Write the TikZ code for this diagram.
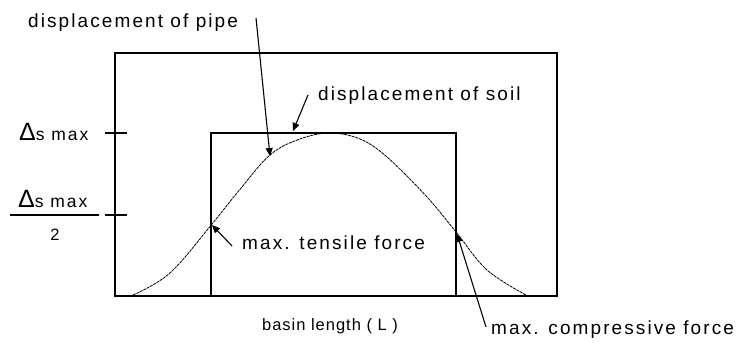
\documentclass[tikz,border=0pt]{standalone}
\usepackage{fontspec}
\setmainfont{Liberation Sans}
\newfontfamily\lblfont[LetterSpace=11]{Liberation Sans}
\newfontfamily\smlfont[LetterSpace=6]{Liberation Sans}
\usetikzlibrary{arrows.meta, positioning, calc}

\begin{document}
\begin{tikzpicture}[x=1pt, y=-1pt,
    lbl/.style={anchor=base west, inner sep=0pt, font=\lblfont\fontsize{19}{22}\selectfont},
    sml/.style={inner sep=0pt, font=\smlfont\fontsize{16.5}{19}\selectfont},
    delta/.style={anchor=base west, inner sep=0pt, font=\lblfont\fontsize{17.5}{20}\selectfont},
    frame/.style={draw, line width=1.3pt},
    curve/.style={line width=0.8pt, dash pattern=on 3pt off 0.8pt},
    arr/.style={line width=1.1pt, -{Triangle[length=8pt, width=7pt]}}]
  \useasboundingbox (0,0) rectangle (742,343);
  % basin (outer) and pipe segment (inner)
  \draw[frame] (115,53) rectangle (557,296);
  \draw[frame] (211,133) rectangle (456,296);
  \foreach \yy in {133,215} \draw[frame] (105,\yy) -- (127,\yy);
  % soil settlement curve
  \draw[curve] plot[smooth, tension=0.6] coordinates {(133,295) (170,273) (212,224)
      (237,193) (270,155) (300,139) (330,133) (360,139) (387,157) (427,197)
      (456,232) (487,270) (526,295)};
  % axis texts
  \node[delta] (smax) at (19,140) {{\fontsize{25}{25}\selectfont Δ}s max};
  \node[delta] (smaxh) at (18,207) {{\fontsize{25}{25}\selectfont Δ}s max};
  \node[sml, anchor=base] (two) at (55,240) {2};
  \draw[line width=1.3pt] (10,215) -- (99,215);
  \node[sml, anchor=base] (basin) at (330,330) {basin length ( L )};
  % callouts
  \node[lbl] (pipe) at (28,27) {displacement of pipe};
  \node[lbl] (soil) at (318,100) {displacement of soil};
  \node[lbl] (tens) at (242,249) {max. tensile force};
  \node[lbl] (comp) at (491,334) {max. compressive force};
  \coordinate (pipeH) at (270,156);
  \coordinate (soilH) at (293,131);
  \coordinate (tensH) at (212,225);
  \coordinate (compH) at (457,234);
  \draw[arr] ($(pipe.base west)+(228,-9)$) -- (pipeH);
  \draw[arr] ($(soil.base west)+(-10,-5)$) -- (soilH);
  \draw[arr] ($(tens.base west)+(-10,-3)$) -- (tensH);
  \draw[arr] ($(comp.base west)+(-5,-7)$) -- (compH);
\end{tikzpicture}
\end{document}
